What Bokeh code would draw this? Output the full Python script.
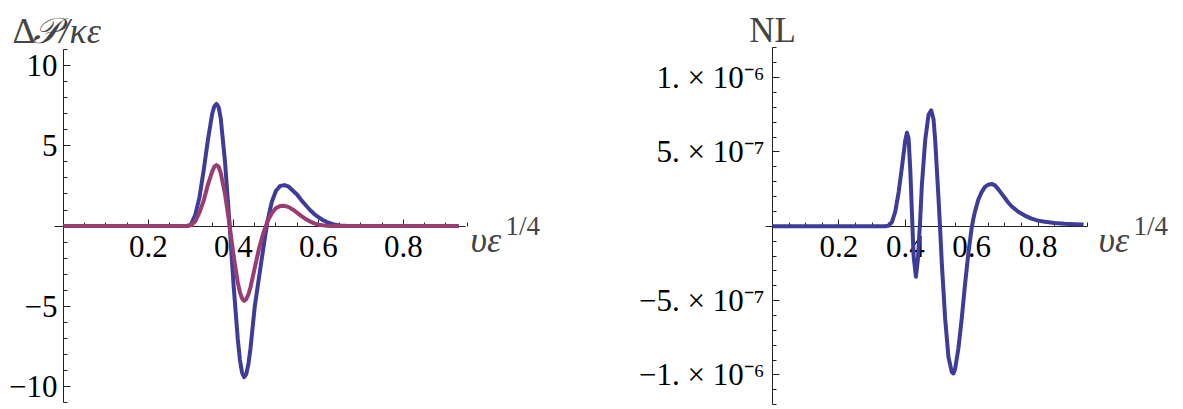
from bokeh.plotting import figure
from bokeh.layouts import row
from bokeh.models import FixedTicker, Label
from bokeh.embed import file_html
from bokeh.resources import INLINE

# ---- left panel: ΔP/κε vs υε^(1/4) ----
dp_x = [0.0, 0.1, 0.2, 0.29, 0.30, 0.31, 0.32, 0.33, 0.34, 0.35, 0.355, 0.36, 0.365, 0.37, 0.38, 0.39,
        0.40, 0.41, 0.415, 0.42, 0.425, 0.43, 0.435, 0.44, 0.45, 0.46, 0.47, 0.48, 0.49, 0.50,
        0.51, 0.52, 0.53, 0.54, 0.55, 0.56, 0.57, 0.58, 0.59, 0.60, 0.61, 0.62,
        0.63, 0.64, 0.65, 0.67, 0.75, 0.85, 0.93]
dp_blue = [0.0, 0.0, 0.0, 0.0, 0.1, 0.7, 1.8, 3.5, 5.4, 7.0, 7.45, 7.6, 7.4, 6.7, 4.0, 0.4,
           -3.6, -7.0, -8.3, -9.1, -9.4, -9.2, -8.6, -7.6, -5.0, -3.2, -1.4, 0.3, 1.5, 2.2,
           2.5, 2.55, 2.45, 2.2, 1.95, 1.6, 1.3, 1.0, 0.75, 0.55, 0.38, 0.25,
           0.15, 0.08, 0.04, 0.0, 0.0, 0.0, 0.0]
dp_red = [0.0, 0.0, 0.0, 0.0, 0.05, 0.3, 0.85, 1.6, 2.6, 3.4, 3.7, 3.8, 3.7, 3.3, 2.0, 0.2,
          -1.8, -3.5, -4.1, -4.5, -4.65, -4.55, -4.25, -3.8, -2.6, -1.4, -0.45, 0.3, 0.8, 1.12,
          1.25, 1.26, 1.18, 1.02, 0.82, 0.62, 0.44, 0.29, 0.17, 0.09, 0.05, 0.02,
          0.0, 0.0, 0.0, 0.0, 0.0, 0.0, 0.0]

# ---- right panel: NL vs υε^(1/4) ----
nl_x = [0.0, 0.1, 0.2, 0.3, 0.34, 0.35, 0.36, 0.37, 0.38, 0.39, 0.40, 0.405, 0.41,
        0.415, 0.42, 0.425, 0.432, 0.438, 0.445, 0.45, 0.46, 0.47, 0.478, 0.485,
        0.49, 0.50, 0.505, 0.51, 0.52, 0.53, 0.54, 0.545, 0.55, 0.56, 0.57, 0.58,
        0.59, 0.60, 0.605, 0.61, 0.62, 0.63, 0.64, 0.65, 0.66, 0.67, 0.68, 0.69,
        0.70, 0.71, 0.72, 0.74, 0.76, 0.78, 0.80, 0.82, 0.85, 0.88, 0.91, 0.937]
nl_y = [0.0, 0.0, 0.0, 0.0, 0.0, 0.05e-7, 0.3e-7, 1.0e-7, 2.3e-7, 4.0e-7, 5.8e-7, 6.3e-7, 5.9e-7,
        3.8e-7, 0.9e-7, -2.0e-7, -3.4e-7, -2.2e-7, 0.5e-7, 2.8e-7, 5.8e-7, 7.5e-7, 7.8e-7, 7.2e-7,
        5.8e-7, 1.9e-7, -0.2e-7, -2.5e-7, -6.2e-7, -8.8e-7, -9.8e-7, -9.9e-7, -9.6e-7, -8.2e-7, -6.2e-7, -3.9e-7,
        -1.8e-7, -0.1e-7, 0.5e-7, 1.0e-7, 1.8e-7, 2.3e-7, 2.65e-7, 2.8e-7, 2.85e-7, 2.75e-7, 2.5e-7, 2.2e-7,
        1.9e-7, 1.6e-7, 1.35e-7, 0.98e-7, 0.72e-7, 0.52e-7, 0.38e-7, 0.3e-7, 0.22e-7, 0.17e-7, 0.14e-7, 0.12e-7]

x_major = [0.2, 0.4, 0.6, 0.8]
x_minor = [0.05, 0.1, 0.15, 0.25, 0.3, 0.35, 0.45, 0.5, 0.55, 0.65, 0.7, 0.75, 0.85, 0.9, 0.95]
left_yticks = [-10, -5, 5, 10]
left_ylabels = ["\u221210", "\u22125", "5", "10"]
left_yminor = [-11, -9, -8, -7, -6, -4, -3, -2, -1, 1, 2, 3, 4, 6, 7, 8, 9, 11]
right_yticks = [-1e-6, -5e-7, 5e-7, 1e-6]
right_ylabels = ["\u22121. \u00d7 10\u207b\u2076", "\u22125. \u00d7 10\u207b\u2077",
                 "5. \u00d7 10\u207b\u2077", "1. \u00d7 10\u207b\u2076"]
right_yminor = [-1.2e-6, -1.1e-6, -9e-7, -8e-7, -7e-7, -6e-7, -4e-7, -3e-7, -2e-7, -1e-7,
                1e-7, 2e-7, 3e-7, 4e-7, 6e-7, 7e-7, 8e-7, 9e-7, 1.1e-6, 1.2e-6]

BLUE = "#3d3d99"
RED = "#993d71"
SERIF = "Liberation Serif"


def style_axes(p, xb, yb, ymajor, ylabels, yminor, ystandoff):
    p.grid.visible = False
    p.outline_line_color = None
    p.background_fill_color = "white"
    p.border_fill_color = "white"
    xa = p.xaxis[0]
    ya = p.yaxis[0]
    xa.fixed_location = 0
    ya.fixed_location = 0
    xa.bounds = xb
    ya.bounds = yb
    xa.ticker = FixedTicker(ticks=x_major, minor_ticks=x_minor)
    ya.ticker = FixedTicker(ticks=ymajor, minor_ticks=yminor)
    ya.major_label_overrides = {t: s for t, s in zip(ymajor, ylabels)}
    for ax in (xa, ya):
        ax.axis_line_color = "#222222"
        ax.axis_line_width = 1
        ax.major_tick_line_color = "#222222"
        ax.minor_tick_line_color = "#222222"
        ax.major_tick_in = 7
        ax.major_tick_out = 0
        ax.minor_tick_in = 4
        ax.minor_tick_out = 0
        ax.major_label_text_font = SERIF
        ax.major_label_text_font_size = "31px"
        ax.major_label_text_color = "black"
    xa.major_label_standoff = 10
    ya.major_label_standoff = ystandoff


# left figure: page x 0..560, y 0..409
p1 = figure(width=560, height=409, x_range=(-0.148235, 1.169412), y_range=(-11.405, 14.030),
            output_backend="svg", toolbar_location=None, min_border=0)
style_axes(p1, (-0.02, 0.946), (-11, 11), left_yticks, left_ylabels, left_yminor, 6)
p1.line(dp_x, dp_blue, line_color=BLUE, line_width=4, line_join="round", level="overlay")
p1.line(dp_x, dp_red, line_color=RED, line_width=4, line_join="round", level="overlay")
p1.add_layout(Label(x=-0.12, y=12.164, text="\u0394", text_font=SERIF,
                    text_font_size="36px", text_baseline="alphabetic"))
p1.add_layout(Label(x=-0.12, y=12.164, x_offset=21, text="\U0001D4AB/\u03ba\u03b5", text_font=SERIF,
                    text_font_style="italic", text_font_size="36px", text_baseline="alphabetic"))
p1.add_layout(Label(x=0.9576, y=-0.85, text="\u03c5\u03b5", text_font=SERIF, text_font_style="italic",
                    text_font_size="36px", text_baseline="alphabetic"))
p1.add_layout(Label(x=1.04, y=0.0, text="1/4", text_font=SERIF,
                    text_font_size="27px", text_baseline="alphabetic"))

# right figure: page x 560..1183
p2 = figure(width=623, height=409, x_range=(-0.638554, 1.237952), y_range=(-1.23243e-6, 1.51901e-6),
            output_backend="svg", toolbar_location=None, min_border=0)
style_axes(p2, (-0.02, 0.95), (-1.2e-6, 1.2e-6), right_yticks, right_ylabels, right_yminor, 8)
p2.line(nl_x, nl_y, line_color=BLUE, line_width=4, line_join="round", level="overlay")
p2.add_layout(Label(x=0.0, y=1.3172e-6, text="NL", text_font=SERIF, text_align="center",
                    text_font_size="35px", text_baseline="alphabetic"))
p2.add_layout(Label(x=0.982, y=-8.9e-8, text="\u03c5\u03b5", text_font=SERIF, text_font_style="italic",
                    text_font_size="36px", text_baseline="alphabetic"))
p2.add_layout(Label(x=1.0873, y=0.0, text="1/4", text_font=SERIF,
                    text_font_size="27px", text_baseline="alphabetic"))

layout = row(p1, p2)
open("out.html", "w").write(file_html(layout, INLINE))
